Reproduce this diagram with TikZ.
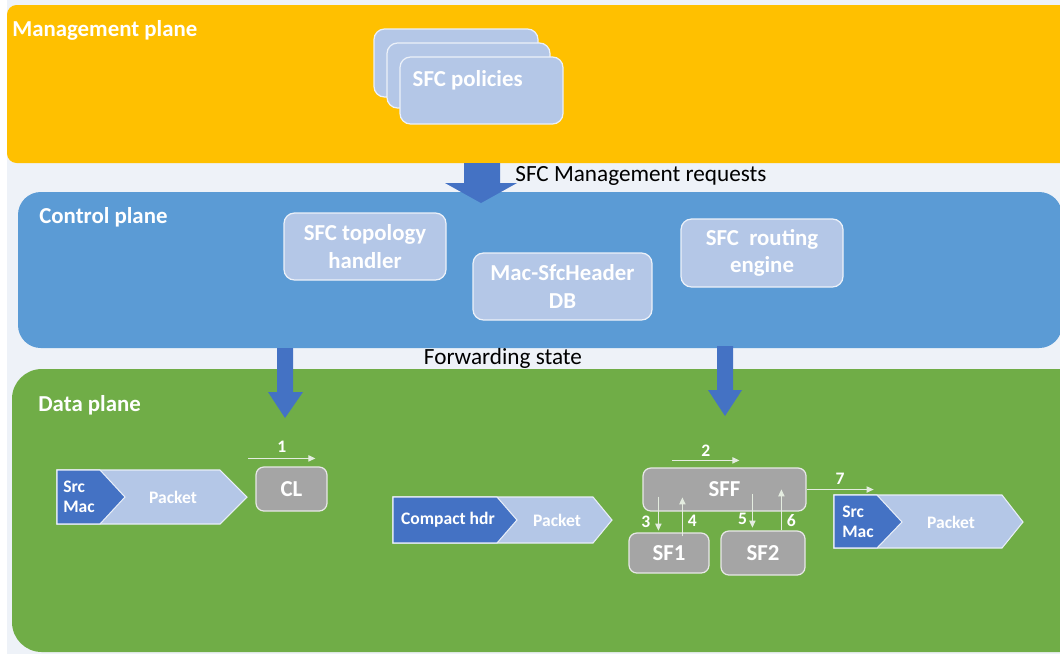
\documentclass[tikz,border=0pt]{standalone}
\usepackage{fontspec}
\setmainfont{Carlito}
\usetikzlibrary{fit,arrows.meta,calc}
\definecolor{bgc}{RGB}{238,242,248}
\definecolor{mgmt}{RGB}{255,192,0}
\definecolor{ctrl}{RGB}{91,155,213}
\definecolor{datac}{RGB}{112,173,71}
\definecolor{darkblue}{RGB}{68,114,196}
\definecolor{lightblue}{RGB}{180,199,231}
\definecolor{graybox}{RGB}{165,165,165}
\definecolor{flowc}{RGB}{228,236,224}
\tikzset{
  plane/.style={fill=#1, draw=none, inner sep=0pt},
  planetitle/.style={anchor=west, text=white, font=\fontsize{13}{15}\selectfont\bfseries, inner sep=0pt},
  infobox/.style={fill=lightblue, draw=white!75!lightblue, line width=0.7pt, rounded corners=6pt, inner sep=0pt},
  infotext/.style={text=white, font=\fontsize{13}{15.5}\selectfont\bfseries, inner sep=0pt, align=center},
  fnbox/.style={fill=graybox, draw=white!75!graybox, line width=0.7pt, rounded corners=4.5pt, inner sep=0pt},
  fntext/.style={text=white, font=\fontsize{13}{15}\selectfont\bfseries, inner sep=0pt},
  flow/.style={draw=flowc, line width=0.6pt, -{Triangle[length=4pt,width=3.6pt]}},
  num/.style={text=white, font=\fontsize{10}{12}\selectfont\bfseries, inner sep=0pt},
  bigarrow/.style={fill=darkblue, draw=none},
  pktlight/.style={fill=lightblue, draw=white!70!lightblue, line width=0.6pt, line join=miter},
  pktdark/.style={fill=darkblue, draw=white!70!lightblue, line width=0.6pt, line join=miter},
  pkttext/.style={text=white, font=\fontsize{10}{11.5}\selectfont\bfseries, inner sep=0pt},
  caption/.style={text=black, font=\fontsize{13.2}{15}\selectfont, inner sep=0pt},
}
\begin{document}
\begin{tikzpicture}[x=0.02cm,y=-0.02cm]
\useasboundingbox (0,0) rectangle (1060,654);
\clip (0,0) rectangle (1060,654);
\fill[white] (0,0) rectangle (1060,654);
\fill[bgc] (7,0) rectangle (1060,654);

% planes
\node[plane=mgmt, rounded corners=5.5pt, fit={(7,5) (1080,163)}] (mgmt) {};
\node[plane=ctrl, rounded corners=13pt, fit={(18,192) (1062,348)}] (ctrl) {};
\node[plane=datac, rounded corners=17pt, fit={(12,369) (1090,652)}] (data) {};

\node[planetitle] (mgmtt) at (12,30) {Management plane};
\node[planetitle] (ctrlt) at (39,217) {Control plane};
\node[planetitle] (datat) at (38,405) {Data plane};

% SFC policies stack
\node[infobox, fit={(374,29) (538,97)}] (pol1) {};
\node[infobox, fit={(387,43) (550,108)}] (pol2) {};
\node[infobox, fit={(400,57) (563,124)}] (pol3) {};
\node[infotext, anchor=west] (polt) at ($(pol3.west)+(13,-10.5)$) {SFC policies};

% management -> control arrow
\path[bigarrow] (464,163) -- (500,163) -- (500,183) -- (517,183) -- (481,203) -- (445,183) -- (464,183) -- cycle;
\node[caption, anchor=west] (mreq) at (515,176) {SFC Management requests};

% control plane boxes
\node[infobox, fit={(284,213) (446,280)}, label={[infotext]center:SFC topology\\handler}] (topo) {};
\node[infobox, fit={(473,253) (652,320)}, label={[infotext]center:Mac-SfcHeader\\DB}] (macdb) {};
\node[infobox, fit={(681,219) (843,287)}, label={[infotext]center:SFC\ \ routing\\engine}] (route) {};

% control -> data arrows
\path[bigarrow] (277,348) -- (293,348) -- (293,392) -- (303,392) -- (285,418) -- (268,392) -- (277,392) -- cycle;
\path[bigarrow] (717,346) -- (733,346) -- (733,390) -- (742,390) -- (725,416) -- (708,390) -- (717,390) -- cycle;
\node[caption] (fwd) at (503,358) {Forwarding state};

% left packet
\path[pktlight] (57,470) -- (220,470) -- (247,497) -- (220,524) -- (57,524) -- cycle;
\path[pktdark] (57,470) -- (100,470) -- (125,497) -- (100,524) -- (57,524) -- cycle;
\node[pkttext, align=left, anchor=west] (srcmac1) at (63,497) {Src\\Mac};
\node[pkttext] (pkt1) at (173,497) {Packet};

% compact header packet
\path[pktlight] (393,497) -- (593,497) -- (612,520) -- (593,543) -- (393,543) -- cycle;
\path[pktdark] (393,497) -- (497,497) -- (517,520) -- (497,543) -- (393,543) -- cycle;
\node[pkttext] (chdr) at (448,520) {Compact hdr};
\node[pkttext] (pkt2) at (557,520) {Packet};

% right packet
\path[pktlight] (834,495) -- (1002,495) -- (1023,522) -- (1002,548) -- (834,548) -- cycle;
\path[pktdark] (834,495) -- (877,495) -- (902,522) -- (877,548) -- (834,548) -- cycle;
\node[pkttext, align=left, anchor=west] (srcmac3) at (842,522) {Src\\Mac};
\node[pkttext] (pkt3) at (951,522) {Packet};

% function boxes
\node[fnbox, fit={(256,467) (327,511)}, label={[fntext]center:CL}] (cl) {};
\node[fnbox, fit={(643,468) (806,511)}, label={[fntext]center:SFF}] (sff) {};
\node[fnbox, fit={(629,533) (709,573)}, label={[fntext]center:SF1}] (sf1) {};
\node[fnbox, fit={(721,531) (805,575)}, label={[fntext]center:SF2}] (sf2) {};

% flow arrows
\draw[flow] ($(cl.north west)+(-7,-8)$) -- ++(67,0) node[num, midway, above=3pt] {1};
\draw[flow] ($(sff.north west)+(30,-7)$) -- ++(67,0) node[num, midway, above=2pt] {2};
\draw[flow] ($(sff.south west)+(16,-15)$) -- ++(0,34) node[num, pos=0.74, left=4.3pt] {3};
\draw[flow] ($(sf1.north west)+(54,4)$) -- ++(0,-39) node[num, pos=0.41, right=2.8pt] {4};
\draw[flow] ($(sff.south west)+(110,-18)$) -- ++(0,34) node[num, pos=0.73, left=2.8pt] {5};
\draw[flow] ($(sf2.north west)+(61,0)$) -- ++(0,-41) node[num, pos=0.24, right=2.8pt] {6};
\draw[flow] (sff.east) -- ++(67,0) node[num, midway, above=2.5pt] {7};
\end{tikzpicture}
\end{document}
